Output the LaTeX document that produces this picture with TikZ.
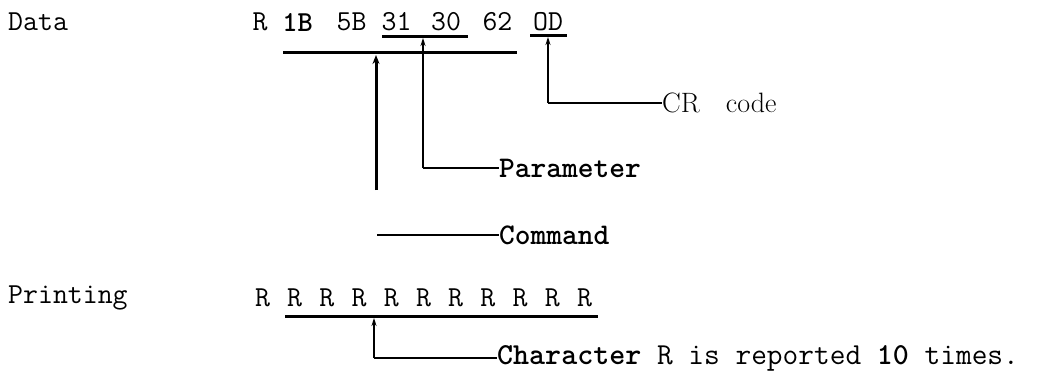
\documentclass[tikz,border=0pt]{standalone}
\usepackage{fontspec}
\usetikzlibrary{arrows.meta}
\begin{document}
\begin{tikzpicture}[x=1pt,y=-1pt,
  txt/.style={inner sep=0pt, anchor=west, font=\ttfamily\fontsize{29}{32}\selectfont},
  sentence/.style={inner sep=0pt, anchor=west, font=\ttfamily\fontsize{30.5}{32}\selectfont},
  boldlabel/.style={inner sep=0pt, anchor=west, font=\ttfamily\bfseries\fontsize{30}{32}\selectfont},
  tok/.style={inner sep=0pt, font=\ttfamily\fontsize{29}{32}\selectfont},
  boldtok/.style={inner sep=0pt, font=\ttfamily\bfseries\fontsize{29}{32}\selectfont},
  serlabel/.style={inner sep=0pt, anchor=west, font=\fontsize{28}{30}\selectfont},
  bar/.style={line width=3pt},
  conn/.style={line width=2pt},
  thinv/.style={line width=1.2pt},
  tip/.style={-{Stealth[length=8pt,width=5pt]}},
  bigtip/.style={-{Stealth[length=9pt,width=7pt]}}
]
\useasboundingbox (0,0) rectangle (1041,380);

% Data row
\node[txt] (data) at (8,22) {Data};
\node[tok] (tR) at (260,22) {R};
\node[boldtok] (t1B) at (297.5,22) {1B};
\node[tok] (t5B) at (351.5,22) {5B};
\node[tok] (t31) at (396.5,22) {31};
\node[tok] (t30) at (446,22) {30};
\node[tok] (t62) at (497.5,22) {62};
\node[tok] (tOD) at (548,22) {OD};

\coordinate (u1L) at (382,36);
\coordinate (u1R) at (468,36);
\coordinate (lgL) at (283,52);
\coordinate (lgR) at (517,52);
\coordinate (odL) at (530,35);
\coordinate (odR) at (567,35);
\draw[bar] (u1L) -- (u1R);
\draw[bar] (lgL) -- (lgR);
\draw[bar] (odL) -- (odR);

% CR code
\coordinate (cTop) at (548,37);
\node[serlabel] (cr) at (662,103) {CR\hspace{26pt}code};
\draw[thinv,tip] (cTop |- cr.west) -- (cTop);
\draw[conn] (cTop |- cr.west) -- (cr.west);

% Parameter
\coordinate (pTop) at (423,38);
\node[boldlabel] (param) at (499,168) {Parameter};
\draw[thinv,tip] (pTop |- param.west) -- (pTop);
\draw[conn] (pTop |- param.west) -- (param.west);

% Command
\coordinate (cmdTop) at (376,55);
\coordinate (cmdBot) at (376,190);
\draw[bar,bigtip] (cmdBot) -- (cmdTop);
\node[boldlabel] (cmd) at (499,235) {Command};
\coordinate (cmdL) at (377,235);
\draw[conn] (cmdL) -- (cmd.west);

% Printing row
\node[txt] (print) at (8,298) {Printing};
\foreach \i in {0,...,10} \node[tok] (r\i) at ({262.5+32.2*\i},298) {R};
\coordinate (u2L) at (285,316);
\coordinate (u2R) at (598,316);
\draw[bar] (u2L) -- (u2R);

\coordinate (chTop) at (374,318);
\node[sentence] (ch) at (497,358) {\textbf{Character} R is reported \textbf{10} times.};
\draw[thinv,tip] (chTop |- ch.west) -- (chTop);
\draw[conn] (chTop |- ch.west) -- (ch.west);
\end{tikzpicture}
\end{document}
